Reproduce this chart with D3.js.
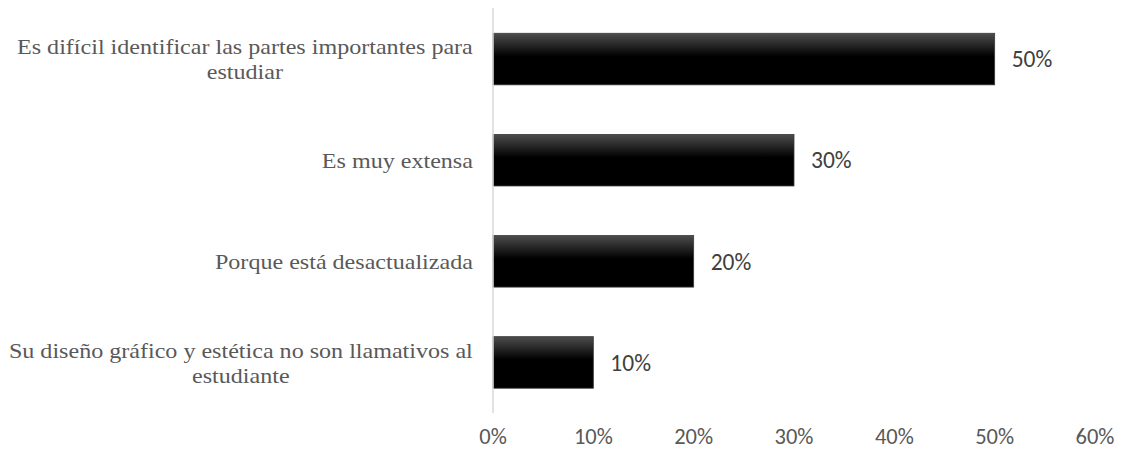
<!DOCTYPE html>
<html><head><meta charset="utf-8">
<script src="https://cdn.jsdelivr.net/npm/d3@7/dist/d3.min.js"></script>
<style>body{margin:0;background:#fff}</style>
</head><body><svg id="c" width="1125" height="454"></svg>
<script>
const categories = [
  ["Es difícil identificar las partes importantes para", "estudiar"],
  ["Es muy extensa"],
  ["Porque está desactualizada"],
  ["Su diseño gráfico y estética no son llamativos al", "estudiante"]
];
const values = [0.5, 0.3, 0.2, 0.1];
const tickValues = [0, 0.1, 0.2, 0.3, 0.4, 0.5, 0.6];

const svg = d3.select("#c");
const x = d3.scaleLinear().domain([0, 0.6]).range([493, 1095]);
const y = d3.scaleBand().domain(d3.range(categories.length)).range([8.5, 413]).paddingInner(0.49).paddingOuter(0.245);

const defs = svg.append("defs");
const g = defs.append("linearGradient").attr("id","gr").attr("x1",0).attr("y1",0).attr("x2",0).attr("y2",1);
g.append("stop").attr("offset","0%").attr("stop-color","#4d4d4d");
g.append("stop").attr("offset","45%").attr("stop-color","#000");
g.append("stop").attr("offset","100%").attr("stop-color","#000");

svg.selectAll("rect.bar").data(values).join("rect").attr("class","bar")
  .attr("x", x(0)).attr("y", (d,i)=>y(i)).attr("width", d=>x(d)-x(0)).attr("height", y.bandwidth())
  .attr("fill","url(#gr)").attr("stroke","#3a3a3a").attr("stroke-width",0.8);

svg.append("line").attr("x1",x(0)).attr("x2",x(0)).attr("y1",8).attr("y2",413)
  .attr("stroke","#d9d9d9").attr("stroke-width",1.5);

const numFont = "Carlito, Lato, 'Liberation Sans', Arial, sans-serif";
svg.selectAll("text.val").data(values).join("text").attr("class","val")
  .attr("x", d=>x(d)+17).attr("y",(d,i)=>y(i)+y.bandwidth()/2).attr("dy","0.35em")
  .attr("font-family",numFont).attr("font-size",23.5)
  .attr("fill","#404040").text(d=>Math.round(d*100)+"%");

const sx = 1.095;
const lh = 25;
const lab = svg.selectAll("text.cat").data(categories).join("text").attr("class","cat")
  .attr("text-anchor","middle")
  .attr("font-family","'Liberation Serif','Times New Roman',serif").attr("font-size",22)
  .attr("fill","#595959");
lab.each(function(d,i){
  const t = d3.select(this);
  const cy = y(i)+y.bandwidth()/2;
  d.forEach((line,j)=>{
    t.append("tspan").attr("x", 0)
      .attr("y", cy + (j-(d.length-1)/2)*lh).attr("dy","0.35em").text(line);
  });
  const w = d3.max(t.selectAll("tspan").nodes(), n=>n.getComputedTextLength()) * sx;
  t.attr("transform", `translate(${473 - w/2},0) scale(${sx},1)`);
});

svg.selectAll("text.tick").data(tickValues).join("text").attr("class","tick")
  .attr("x", d=>x(d)).attr("y", 436).attr("dy","0.35em").attr("text-anchor","middle")
  .attr("font-family",numFont).attr("font-size",22.5)
  .attr("fill","#595959").text(d=>Math.round(d*100)+"%");
</script></body></html>
